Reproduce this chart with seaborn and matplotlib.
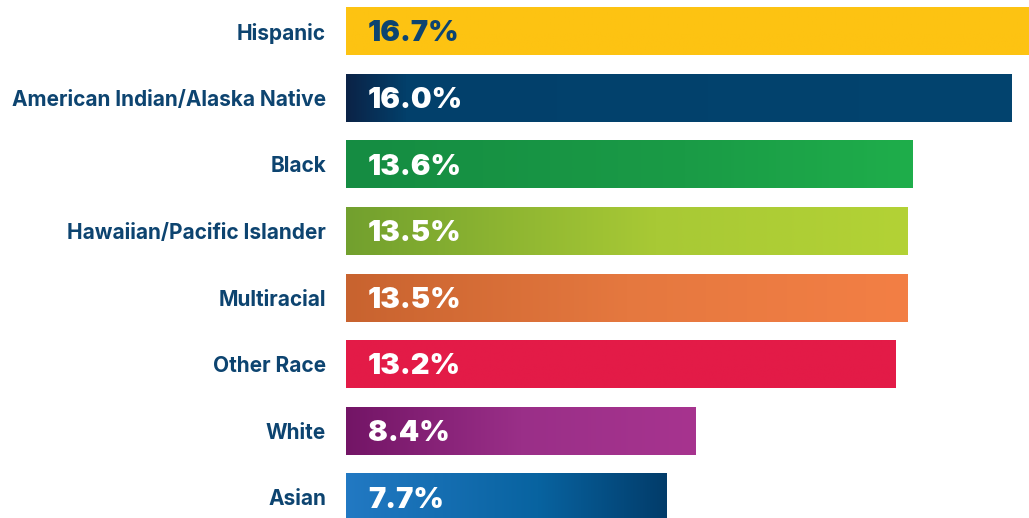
import numpy as np
import pandas as pd
import matplotlib
matplotlib.use("Agg")
import matplotlib.pyplot as plt
import seaborn as sns
from matplotlib.colors import LinearSegmentedColormap

# data
groups = ["Hispanic", "American Indian/Alaska Native", "Black",
          "Hawaiian/Pacific Islander", "Multiracial", "Other Race",
          "White", "Asian"]
rates = [16.7, 16.0, 13.6, 13.5, 13.5, 13.2, 8.4, 7.7]

# gradient stops for each bar (position, colour), left -> right
bar_colors = [
    [(0, "#fdc312"), (1, "#fdc312")],
    [(0, "#0b2347"), (0.09, "#02406b"), (1, "#03446f")],
    [(0, "#158c42"), (0.6, "#1a9b46"), (1, "#1fae4b")],
    [(0, "#72a02e"), (0.55, "#a8c935"), (1, "#b3d235")],
    [(0, "#c8632f"), (0.5, "#e5783f"), (1, "#f37f45")],
    [(0, "#e31b47"), (1, "#e31b47")],
    [(0, "#731566"), (0.5, "#9a2f88"), (1, "#a7348f")],
    [(0, "#2279c3"), (0.6, "#0863a0"), (1, "#023c6a")],
]
text_colors = ["#0d4470"] + ["white"] * 7
navy = "#0d4470"

df = pd.DataFrame({"group": groups, "rate": rates})

sns.set_style("white")
plt.rcParams["font.family"] = ["Inter", "DejaVu Sans"]

fig = plt.figure(figsize=(10.29, 5.18), dpi=100)
ax = fig.add_axes([346 / 1029, 0, 683 / 1029, 1])

sns.barplot(data=df, x="rate", y="group", hue="group", palette=[c[0][1] for c in bar_colors],
            width=0.72, legend=False, ax=ax, saturation=1)

# gradients laid over each bar
for patch, cols in zip(ax.patches, bar_colors):
    x, y = patch.get_x(), patch.get_y()
    w, h = patch.get_width(), patch.get_height()
    cmap = LinearSegmentedColormap.from_list("g", cols)
    grad = np.linspace(0, 1, 512).reshape(1, -1)
    ax.imshow(grad, extent=[x, x + w, y + h, y], cmap=cmap, aspect="auto", zorder=2)

for i, (v, tc) in enumerate(zip(rates, text_colors)):
    ax.text(0.53, i + 0.04, f"{v}%", color=tc, fontsize=21, fontweight="black",
            va="center", ha="left", zorder=3)

ax.set_xlim(0, 16.41)
ax.set_ylim(7.31, -0.47)
ax.set_xlabel("")
ax.set_ylabel("")
ax.set_xticks([])
ax.tick_params(axis="y", length=0, pad=14.4)
for lab in ax.get_yticklabels():
    lab.set_fontsize(15)
    lab.set_fontweight("bold")
    lab.set_color(navy)
sns.despine(ax=ax, left=True, bottom=True)

fig.savefig("out.png", dpi=100)
